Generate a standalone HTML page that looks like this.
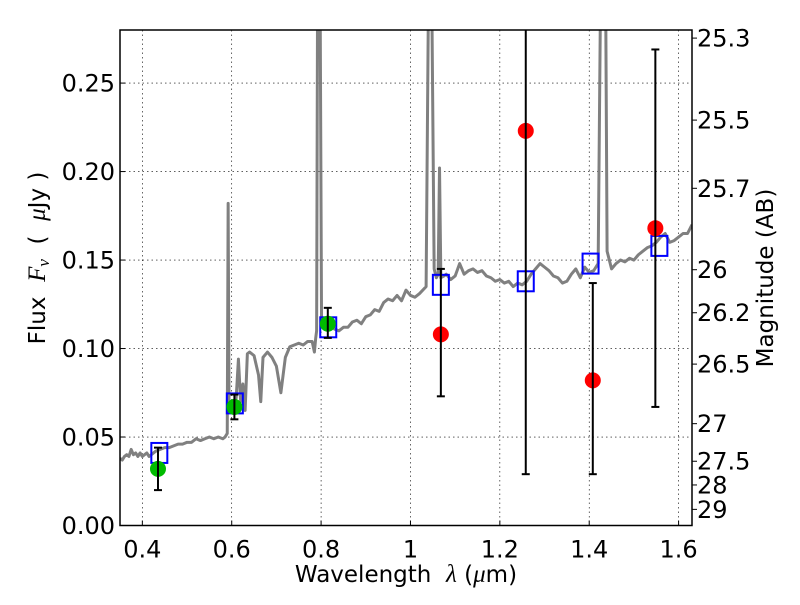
<!DOCTYPE html>
<html><head><meta charset="utf-8"><style>
body{margin:0;background:#fff}
svg text{font-family:"DejaVu Sans","Liberation Sans",sans-serif;fill:#000}
.m{font-family:"Liberation Serif",serif;font-style:italic}
</style></head><body>
<svg width="800" height="600" xmlns="http://www.w3.org/2000/svg">
<rect width="800" height="600" fill="#fff"/>
<g id="grid"></g>
<g id="spec"></g>
<g id="marks"></g>
<rect x="120" y="30" width="572" height="495.5" fill="none" stroke="#000" stroke-width="1.5"/>
<g id="axes"></g>
<text x="406" y="582" font-size="23" text-anchor="middle">Wavelength&#160;&#160;<tspan class="m" font-size="25">λ</tspan> (<tspan class="m" font-size="25">μ</tspan>m)</text>
<text transform="translate(45,258) rotate(-90)" font-size="23" text-anchor="middle">Flux&#160;&#160;<tspan class="m" font-size="25">F<tspan font-size="17" dy="4">ν</tspan></tspan><tspan dy="-4">&#160;&#160;(&#160;&#160;</tspan><tspan class="m" font-size="25">μ</tspan>Jy )</text>
<text transform="translate(773,278) rotate(-90)" font-size="23" text-anchor="middle">Magnitude (AB)</text>
</svg>
<script>
const xTicks=[0.4,0.6,0.8,1.0,1.2,1.4,1.6];
const xTickLabels=["0.4","0.6","0.8","1","1.2","1.4","1.6"];
const yTicks=[0,0.05,0.10,0.15,0.20,0.25];
const yTickLabels=["0.00","0.05","0.10","0.15","0.20","0.25"];
const magTicks=[25.3,25.5,25.7,26,26.2,26.5,27,27.5,28,29];
const magTickLabels=["25.3","25.5","25.7","26","26.2","26.5","27","27.5","28","29"];
const specWave=[0.35,0.355,0.36,0.365,0.37,0.375,0.38,0.385,0.39,0.395,0.40,0.405,0.41,0.415,0.42,0.43,0.44,0.45,0.46,0.47,0.48,0.49,0.50,0.51,0.52,0.53,0.54,0.55,0.56,0.57,0.58,0.585,0.59,0.592,0.594,0.597,0.60,0.61,0.615,0.62,0.625,0.63,0.635,0.64,0.65,0.66,0.665,0.67,0.68,0.69,0.70,0.71,0.72,0.73,0.74,0.75,0.76,0.77,0.78,0.785,0.788,0.790,0.792,0.795,0.798,0.801,0.81,0.82,0.83,0.84,0.85,0.86,0.87,0.88,0.89,0.90,0.91,0.92,0.93,0.94,0.95,0.96,0.97,0.98,0.99,1.00,1.01,1.02,1.035,1.040,1.048,1.053,1.058,1.062,1.065,1.068,1.075,1.08,1.09,1.10,1.11,1.12,1.13,1.14,1.15,1.16,1.17,1.18,1.19,1.20,1.21,1.22,1.23,1.24,1.25,1.26,1.27,1.28,1.29,1.30,1.31,1.32,1.33,1.34,1.35,1.36,1.37,1.38,1.39,1.40,1.41,1.42,1.425,1.428,1.433,1.437,1.44,1.45,1.46,1.47,1.48,1.49,1.50,1.51,1.52,1.53,1.54,1.55,1.56,1.57,1.58,1.59,1.60,1.61,1.62,1.63];
const specFlux=[0.038,0.037,0.039,0.040,0.039,0.043,0.040,0.041,0.039,0.041,0.039,0.040,0.041,0.039,0.040,0.042,0.043,0.044,0.044,0.045,0.046,0.046,0.047,0.047,0.049,0.048,0.049,0.050,0.049,0.050,0.049,0.050,0.052,0.182,0.065,0.066,0.068,0.072,0.094,0.070,0.080,0.065,0.097,0.098,0.096,0.085,0.070,0.095,0.098,0.095,0.090,0.075,0.095,0.101,0.102,0.103,0.102,0.104,0.104,0.098,0.106,0.110,0.29,0.29,0.29,0.115,0.114,0.115,0.111,0.110,0.112,0.112,0.115,0.116,0.114,0.118,0.119,0.122,0.121,0.126,0.128,0.127,0.130,0.127,0.133,0.130,0.129,0.131,0.135,0.29,0.29,0.145,0.140,0.142,0.202,0.140,0.141,0.142,0.139,0.141,0.148,0.142,0.144,0.145,0.143,0.144,0.141,0.140,0.138,0.139,0.137,0.138,0.135,0.137,0.136,0.138,0.142,0.145,0.148,0.146,0.144,0.141,0.140,0.137,0.138,0.142,0.145,0.140,0.146,0.143,0.144,0.148,0.29,0.29,0.29,0.29,0.155,0.145,0.148,0.150,0.149,0.151,0.150,0.153,0.155,0.157,0.158,0.160,0.163,0.165,0.160,0.161,0.163,0.165,0.165,0.170];
const photWave=[0.435,0.606,0.815];
const photFlux=[0.032,0.067,0.114];
const photLo=[0.020,0.060,0.106];
const photHi=[0.044,0.074,0.123];
const redWave=[1.068,1.258,1.408,1.548];
const redFlux=[0.108,0.223,0.082,0.168];
const redLo=[0.073,0.029,0.029,0.067];
const redHi=[0.145,0.30,0.137,0.269];
const modelWave=[0.438,0.607,0.816,1.068,1.258,1.403,1.557];
const modelFlux=[0.041,0.069,0.112,0.136,0.138,0.148,0.158];

const X0=120,X1=692,Y0=525.5,Y1=30,xmin=0.35,xmax=1.63,ymin=0,ymax=0.28;
const xs=v=>X0+(v-xmin)/(xmax-xmin)*(X1-X0);
const ys=v=>Y0-(v-ymin)/(ymax-ymin)*(Y0-Y1);
const magToFlux=m=>Math.pow(10,(23.9-m)/2.5);
const NS="http://www.w3.org/2000/svg";
function mk(tag,attrs,parent){const e=document.createElementNS(NS,tag);for(const k in attrs)e.setAttribute(k,attrs[k]);parent.appendChild(e);return e;}
const grid=document.getElementById('grid'),axes=document.getElementById('axes'),spec=document.getElementById('spec'),marks=document.getElementById('marks');
const clip=mk('clipPath',{id:'cp'},document.querySelector('svg'));
mk('rect',{x:X0,y:Y1,width:X1-X0,height:Y0-Y1},clip);
spec.setAttribute('clip-path','url(#cp)');marks.setAttribute('clip-path','url(#cp)');
xTicks.forEach((t,i)=>{const x=xs(t);
 let g=mk('line',{x1:x,x2:x,y1:Y1,y2:Y0,stroke:'#000','stroke-width':0.6,'stroke-dasharray':'1.5,3'},grid);
 
 
 let tk=mk('line',{x1:x,x2:x,y1:Y0,y2:Y0-5,stroke:'#000'},axes);
 
 
 let tx=mk('text',{x:x,y:Y0+32,'font-size':24,'text-anchor':'middle'},axes);tx.textContent=xTickLabels[i];
 
 
});
yTicks.forEach((t,i)=>{const y=ys(t);
 let g=mk('line',{x1:X0,x2:X1,y1:y,y2:y,stroke:'#000','stroke-width':0.6,'stroke-dasharray':'1.5,3'},grid);
 
 
 let tk=mk('line',{x1:X0,x2:X0+5,y1:y,y2:y,stroke:'#000'},axes);
 
 
 let tx=mk('text',{x:X0-5,y:y+8.5,'font-size':24,'text-anchor':'end'},axes);tx.textContent=yTickLabels[i];
 
 
});
magTicks.forEach((m,i)=>{const y=ys(magToFlux(m));
 let tk=mk('line',{x1:X1,x2:X1+5,y1:y,y2:y,stroke:'#000'},axes);
 
 
 let tx=mk('text',{x:X1+5,y:y+8.5,'font-size':24},axes);tx.textContent=magTickLabels[i];
 
 
});
const pl=mk('polyline',{points:specWave.map((w,i)=>xs(w)+','+ys(specFlux[i])).join(' '),fill:'none',stroke:'#808080','stroke-width':3,'stroke-linejoin':'round'},spec);


function errbar(x,lo,hi,name){
 const g=mk('g',{stroke:'#000','stroke-width':2},marks);
 
 
 mk('line',{x1:x,x2:x,y1:ys(lo),y2:ys(hi)},g);
 mk('line',{x1:x-4,x2:x+4,y1:ys(lo),y2:ys(lo)},g);
 mk('line',{x1:x-4,x2:x+4,y1:ys(hi),y2:ys(hi)},g);
}
modelWave.forEach((w,i)=>{
 const r=mk('rect',{x:xs(w)-8,y:ys(modelFlux[i])-10,width:16,height:20,fill:'none',stroke:'#0000ff','stroke-width':2},marks);
 
 
});
photWave.forEach((w,i)=>{
 const c=mk('circle',{cx:xs(w),cy:ys(photFlux[i]),r:8,fill:'#00bb00'},marks);
 
 
 errbar(xs(w),photLo[i],photHi[i],'detection-errorbar');
});
redWave.forEach((w,i)=>{
 const c=mk('circle',{cx:xs(w),cy:ys(redFlux[i]),r:8,fill:'#ff0000'},marks);
 
 
 errbar(xs(w),redLo[i],redHi[i],'nondetection-errorbar');
});
</script>
</body></html>
